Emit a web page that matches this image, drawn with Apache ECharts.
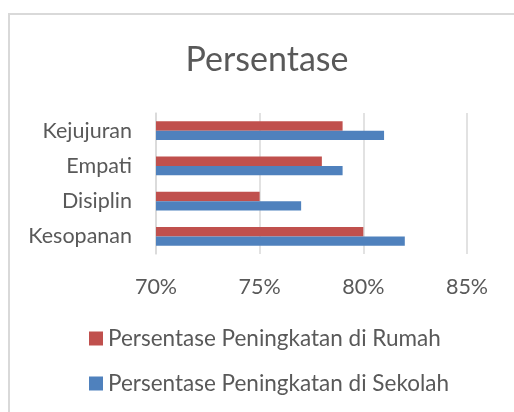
<!DOCTYPE html>
<html>
<head>
<meta charset="utf-8">
<script src="https://cdn.jsdelivr.net/npm/echarts@6/dist/echarts.min.js"></script>
<style>
  html, body { margin: 0; padding: 0; background: #fff; }
  #chart { width: 514px; height: 412px; }
</style>
</head>
<body>
<div id="chart"></div>
<script>
// data
const categories = ['Kesopanan', 'Disiplin', 'Empati', 'Kejujuran'];
const rumah = [80, 75, 78, 79];
const sekolah = [82, 77, 79, 81];
const seriesNames = ['Persentase Peningkatan di Rumah', 'Persentase Peningkatan di Sekolah'];
const xTicks = { min: 70, max: 85, step: 5 };

const textColor = '#595959';
const font = 'Lato';

let chart = echarts.init(document.getElementById('chart'));
chart.setOption({
  animation: false,
  title: {
    text: 'Persentase',
    left: 262,
    textAlign: 'center',
    top: 38,
    textStyle: { fontFamily: font, fontSize: 34, fontWeight: 'normal', color: textColor }
  },
  graphic: [{
    type: 'rect',
    shape: { x: 9, y: 14, width: 540, height: 440 },
    style: { fill: 'none', stroke: '#d9d9d9', lineWidth: 2 },
    silent: true
  }],
  grid: { left: 156, right: 47, top: 113, bottom: 158 },
  legend: {
    orient: 'vertical',
    left: 84,
    top: 322,
    padding: 5,
    itemWidth: 14,
    itemHeight: 14,
    itemGap: 22,
    icon: 'rect',
    textStyle: { fontFamily: font, fontSize: 22.5, color: textColor, lineHeight: 23 },
    data: seriesNames
  },
  xAxis: {
    type: 'value',
    min: xTicks.min,
    max: xTicks.max,
    interval: xTicks.step,
    axisLine: { show: false },
    axisTick: { show: false },
    splitLine: { lineStyle: { color: '#d9d9d9', width: 1.5 } },
    axisLabel: { formatter: '{value}%', fontFamily: font, fontSize: 21.5, color: textColor, margin: 22 }
  },
  yAxis: {
    type: 'category',
    data: categories,
    axisLine: { show: true, lineStyle: { color: '#d9d9d9', width: 1.5 } },
    axisTick: { show: false },
    axisLabel: { fontFamily: font, fontSize: 21.5, color: textColor, margin: 24 }
  },
  series: [
    {
      name: seriesNames[0],
      type: 'bar',
      data: rumah,
      barWidth: 9.4,
      barGap: '0%',
      itemStyle: { color: '#C0504D' }
    },
    {
      name: seriesNames[1],
      type: 'bar',
      data: sekolah,
      barWidth: 9.4,
      barGap: '0%',
      itemStyle: { color: '#4F81BD' }
    }
  ]
});
</script>
</body>
</html>
